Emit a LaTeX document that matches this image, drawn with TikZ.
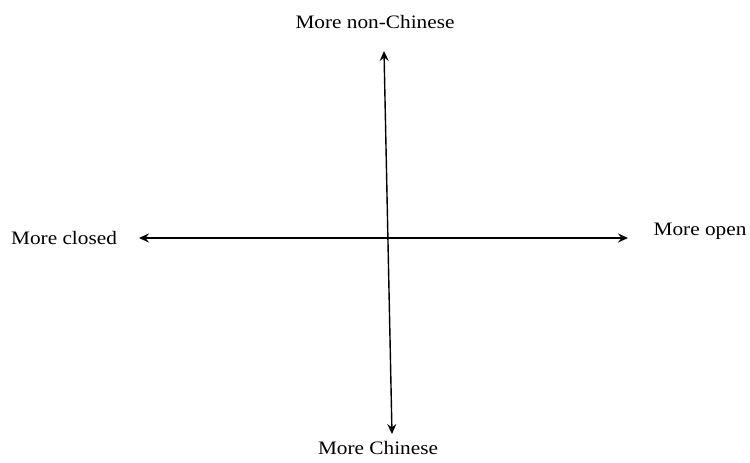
\documentclass[tikz,border=0pt]{standalone}
\usepackage{fontspec}
\setmainfont{Liberation Serif}
\usetikzlibrary{arrows.meta}
\begin{document}
\begin{tikzpicture}[x=1pt,y=-1pt,
  lbl/.style={inner sep=0pt,font=\fontsize{19}{22}\selectfont},
  axis/.style={line width=1.4pt,{Stealth[length=10pt,width=9pt,inset=3.5pt]}-{Stealth[length=10pt,width=9pt,inset=3.5pt]}}]
\useasboundingbox (0,0) rectangle (750,463);
\node[lbl] (top) at (375,22) {\scalebox{1.12}[1]{More non-Chinese}};
\node[lbl] (bot) at (378,448) {\scalebox{1.12}[1]{More Chinese}};
\node[lbl] (left) at (64,238) {\scalebox{1.12}[1]{More closed}};
\node[lbl] (right) at (700,231) {\scalebox{1.12}[1]{More open}};
\coordinate (vt) at (384,51);
\coordinate (vb) at (392,434);
\coordinate (hl) at (139,238);
\coordinate (hr) at (628,238);
\draw[axis] (vt) -- (vb);
\draw[axis] (hl) -- (hr);
\end{tikzpicture}
\end{document}
